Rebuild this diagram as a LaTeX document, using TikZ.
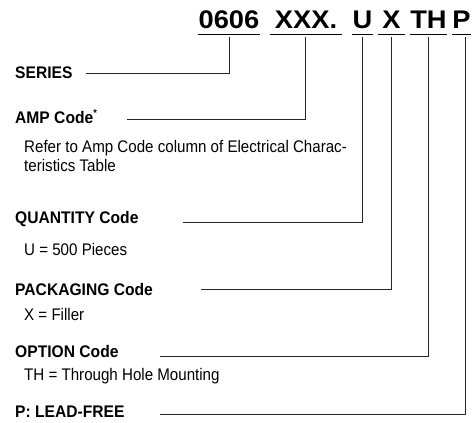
\documentclass[tikz,border=0pt]{standalone}
\usepackage{fontspec}
\setmainfont{Liberation Sans}
\newfontfamily\titlefont{Liberation Sans}[FakeStretch=1.07]
\newfontfamily\lblfont{Liberation Sans}[FakeStretch=0.93]
\newfontfamily\descfont{Liberation Sans}[FakeStretch=0.9]
\begin{document}
\begin{tikzpicture}[x=1pt,y=-1pt,
  ttl/.style={font=\titlefont\bfseries\fontsize{25.5}{27}\selectfont, inner sep=0pt, text depth=5.5pt, anchor=base, align=center},
  lbl/.style={font=\lblfont\bfseries\fontsize{16.8}{18}\selectfont, inner sep=0pt, anchor=base west},
  desc/.style={font=\descfont\fontsize{16.8}{18}\selectfont, inner sep=0pt, anchor=base west},
  uline/.style={draw=black, line width=0.9pt},
  conn/.style={draw=black!85, line width=0.8pt}]
\useasboundingbox (0,0) rectangle (474,423);
% title groups
\node[ttl, minimum width=62pt] (t0606) at (229,28.5) {0606};
\node[ttl, minimum width=72pt] (tXXX) at (306,28.5) {XXX.};
\node[ttl, minimum width=21pt] (tU) at (362.5,28.5) {U};
\node[ttl, minimum width=27pt] (tX) at (391.5,28.5) {X};
\node[ttl, minimum width=37pt] (tTH) at (428.5,28.5) {TH};
\node[ttl, minimum width=17pt] (tP) at (461.5,28.5) {P};
\foreach \n in {t0606,tXXX,tU,tX,tTH,tP}
  \draw[uline] (\n.south west) -- (\n.south east);
% labels
\node[lbl] (series) at (15,78) {SERIES};
\node[lbl] (amp) at (15,123) {AMP Code\textsuperscript{\fontsize{10}{10}\selectfont *}};
\node[desc] (amp1) at (24,152) {Refer to Amp Code column of Electrical Charac-};
\node[desc] (amp2) at (24,171) {teristics Table};
\node[lbl] (qty) at (15,223) {QUANTITY Code};
\node[desc] (qty1) at (24,255) {U = 500 Pieces};
\node[lbl] (pkg) at (15,295) {PACKAGING Code};
\node[desc] (pkg1) at (24,320) {X = Filler};
\node[lbl] (opt) at (15,357) {OPTION Code};
\node[desc] (opt1) at (24,380) {TH = Through Hole Mounting};
\node[lbl] (lf) at (15,417) {P: LEAD-FREE};
% connector ends
\coordinate (cS) at (86,73);
\coordinate (cA) at (127,119);
\coordinate (cQ) at (183,222);
\coordinate (cK) at (201,289);
\coordinate (cO) at (160,356);
\coordinate (cL) at (160,414);
\draw[conn] ([yshift=-3pt]t0606.south) |- (cS);
\draw[conn] ([xshift=-1pt,yshift=-3pt]tXXX.south) |- (cA);
\draw[conn] ([xshift=-0.5pt,yshift=-3pt]tU.south) |- (cQ);
\draw[conn] ([xshift=-0.5pt,yshift=-3pt]tX.south) |- (cK);
\draw[conn] ([xshift=-0.5pt,yshift=-3pt]tTH.south) |- (cO);
\draw[conn] ([xshift=3.5pt,yshift=-3pt]tP.south) |- (cL);
\end{tikzpicture}
\end{document}
